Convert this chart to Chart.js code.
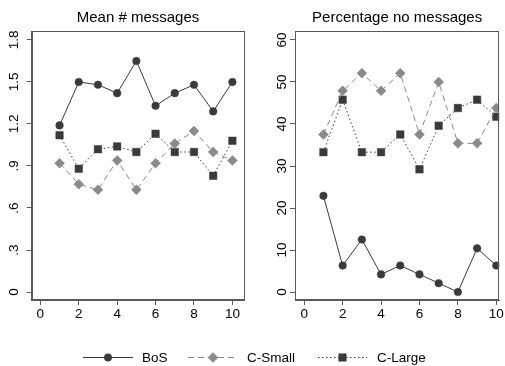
<!DOCTYPE html>
<html>
<head>
<meta charset="utf-8">
<script src="https://cdn.jsdelivr.net/npm/chart.js@4/dist/chart.umd.min.js"></script>
<style>
  html, body { margin: 0; padding: 0; background: #fff; }
  body { width: 505px; height: 366px; position: relative; overflow: hidden; }
  canvas { position: absolute; }
</style>
</head>
<body>
<canvas id="meanChart" width="252" height="325" style="left:0;top:0;width:252px;height:325px"></canvas>
<canvas id="pctChart" width="253" height="325" style="left:252px;top:0;width:253px;height:325px"></canvas>
<canvas id="legend" width="505" height="36" style="left:0;top:330px;width:505px;height:36px"></canvas>
<script>
// Sessions 1..10
const sessions = [1, 2, 3, 4, 5, 6, 7, 8, 9, 10];
const seriesNames = ['BoS', 'C-Small', 'C-Large'];

// Mean number of messages per session
const meanBoS   = [1.19, 1.50, 1.48, 1.42, 1.65, 1.33, 1.42, 1.48, 1.29, 1.50];
const meanSmall = [0.92, 0.77, 0.73, 0.94, 0.73, 0.92, 1.06, 1.15, 1.00, 0.94];
const meanLarge = [1.12, 0.88, 1.02, 1.04, 1.00, 1.13, 1.00, 1.00, 0.83, 1.08];

// Percentage of subjects sending no messages
const pctBoS   = [22.9, 6.3, 12.5, 4.2, 6.3, 4.2, 2.1, 0, 10.4, 6.3];
const pctSmall = [37.5, 47.9, 52.1, 47.9, 52.1, 37.5, 50.0, 35.4, 35.4, 43.8];
const pctLarge = [33.3, 45.8, 33.3, 33.3, 37.5, 29.2, 39.6, 43.8, 45.8, 41.7];

// Axis ticks
const xTicks = [0, 2, 4, 6, 8, 10];
const meanTicks = [0, 0.3, 0.6, 0.9, 1.2, 1.5, 1.8];
const meanTickLabels = ['0', '.3', '.6', '.9', '1.2', '1.5', '1.8'];
const pctTicks = [0, 10, 20, 30, 40, 50, 60];
const pctTickLabels = ['0', '10', '20', '30', '40', '50', '60'];

const FONT = '"Liberation Sans", Arial, Helvetica, sans-serif';
const DARK = '#3a3a3a';
const GREY = '#8a8a8a';
const AXIS = '#5a5a5a';

const styles = [
  { color: DARK, dash: [], point: 'circle', radius: 3.8 },
  { color: GREY, dash: [6, 4], point: 'rectRot', radius: 5 },
  { color: DARK, dash: [1.5, 2.5], point: 'rect', radius: 5.3 }
];

function makeDatasets(values) {
  return values.map((vals, i) => ({
    label: seriesNames[i],
    data: vals,
    borderColor: styles[i].color,
    backgroundColor: styles[i].color,
    borderWidth: 1,
    borderDash: styles[i].dash,
    pointStyle: styles[i].point,
    pointRadius: styles[i].radius,
    pointBackgroundColor: styles[i].color,
    pointBorderColor: styles[i].color,
    pointBorderWidth: 0.5,
    tension: 0,
    fill: false
  }));
}

// Frame around the plot region
const framePlugin = {
  id: 'frame',
  afterDraw(chart) {
    const a = chart.chartArea, ctx = chart.ctx;
    ctx.save();
    ctx.strokeStyle = AXIS;
    ctx.lineWidth = 1;
    ctx.strokeRect(Math.round(a.left) + 0.5, Math.round(a.top) + 0.5,
                   Math.round(a.right - a.left) - 1, Math.round(a.bottom - a.top) - 1);
    ctx.restore();
  }
};

// Vertical (rotated) y-axis labels
const yRotPlugin = {
  id: 'yRot',
  afterDraw(chart, args, opts) {
    const y = chart.scales.y, ctx = chart.ctx;
    ctx.save();
    ctx.fillStyle = '#000';
    ctx.font = '13.5px ' + FONT;
    ctx.textAlign = 'center';
    ctx.textBaseline = 'middle';
    opts.values.forEach((v, i) => {
      const py = y.getPixelForValue(v);
      ctx.save();
      ctx.translate(chart.chartArea.left - opts.offset, py);
      ctx.rotate(-Math.PI / 2);
      ctx.fillText(opts.labels[i], 0, 0);
      ctx.restore();
    });
    ctx.restore();
  }
};

function makeChart(id, title, values, yMin, yMax, yTickVals, yTickLabels, xMin, xMax, axisWidth, padRight, labelOffset) {
  return new Chart(document.getElementById(id), {
    type: 'line',
    data: { labels: sessions, datasets: makeDatasets(values) },
    options: {
      responsive: false,
      animation: false,
      devicePixelRatio: 1,
      layout: { padding: { left: 0, right: padRight, top: 0, bottom: 5 } },
      plugins: {
        legend: { display: false },
        tooltip: { enabled: false },
        title: {
          display: true,
          text: title,
          fullSize: false,
          color: '#000',
          font: { family: FONT, size: 15, weight: 'normal', lineHeight: 1.2 },
          padding: { top: 9, bottom: 4 }
        },
        yRot: { values: yTickVals, labels: yTickLabels, offset: labelOffset }
      },
      scales: {
        x: {
          type: 'linear',
          min: xMin, max: xMax,
          afterBuildTicks: s => { s.ticks = xTicks.map(v => ({ value: v })); },
          afterFit: s => { s.height = 20; },
          grid: { display: true, drawOnChartArea: false, tickLength: 5, color: AXIS },
          border: { display: true, color: AXIS },
          ticks: {
            color: '#000', padding: 1, maxRotation: 0,
            font: { family: FONT, size: 13.5 },
            callback: v => String(v)
          }
        },
        y: {
          type: 'linear',
          min: yMin, max: yMax,
          afterBuildTicks: s => { s.ticks = yTickVals.map(v => ({ value: v })); },
          afterFit: s => { s.width = axisWidth; },
          grid: { display: true, drawOnChartArea: false, tickLength: 5, color: AXIS },
          border: { display: true, color: AXIS },
          ticks: { display: false }
        }
      }
    },
    plugins: [framePlugin, yRotPlugin]
  });
}

makeChart('meanChart', 'Mean # messages', [meanBoS, meanSmall, meanLarge],
  -0.057, 1.864, meanTicks, meanTickLabels, -0.45, 10.62, 31.7, 7.7, 17);
makeChart('pctChart', 'Percentage no messages', [pctBoS, pctSmall, pctLarge],
  -1.9, 62.14, pctTicks, pctTickLabels, -0.48, 10.15, 43, 5.5, 13);

// Legend row below both panels
(function drawLegend() {
  const ctx = document.getElementById('legend').getContext('2d');
  const cy = 27.5;
  const items = [
    { x0: 83, x1: 133, tx: 142 },
    { x0: 188, x1: 238, tx: 247 },
    { x0: 318, x1: 367, tx: 377 }
  ];
  items.forEach((it, i) => {
    const st = styles[i];
    ctx.save();
    ctx.strokeStyle = st.color;
    ctx.lineWidth = 1;
    ctx.setLineDash(st.dash);
    ctx.beginPath();
    ctx.moveTo(it.x0, cy);
    ctx.lineTo(it.x1, cy);
    ctx.stroke();
    ctx.setLineDash([]);
    ctx.fillStyle = st.color;
    ctx.strokeStyle = st.color;
    ctx.lineWidth = 0.5;
    Chart.helpers.drawPoint(ctx, { pointStyle: st.point, radius: st.radius, rotation: 0, borderWidth: 0.5 },
      (it.x0 + it.x1) / 2, cy);
    ctx.fillStyle = '#000';
    ctx.font = '13.5px ' + FONT;
    ctx.textAlign = 'left';
    ctx.textBaseline = 'middle';
    ctx.fillText(seriesNames[i], it.tx, cy + 1);
    ctx.restore();
  });
})();
</script>
</body>
</html>
